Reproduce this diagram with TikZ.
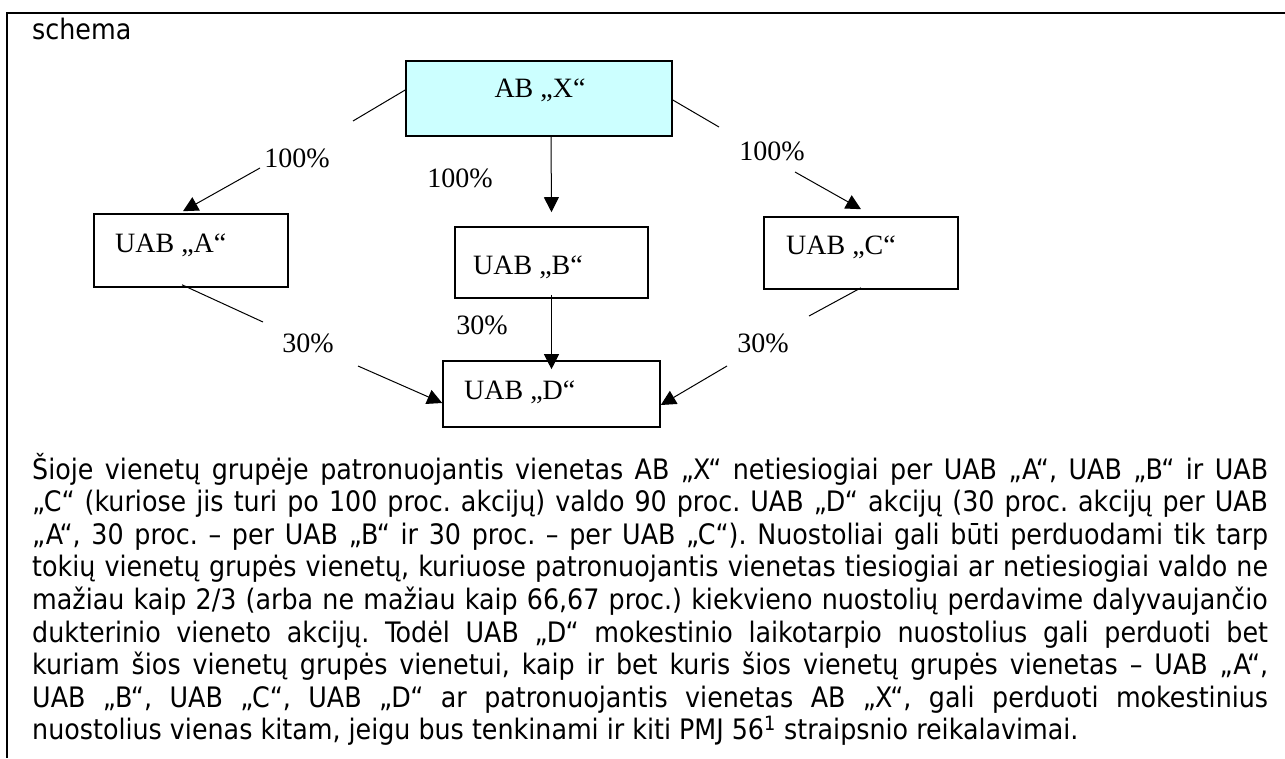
\documentclass[tikz,border=0pt]{standalone}
\usepackage{fontspec}
\setmainfont{Liberation Serif}
\newfontfamily\bodyfont{DejaVu Sans Condensed}
\usetikzlibrary{arrows.meta}
\begin{document}
\frenchspacing
\begin{tikzpicture}[x=1pt,y=-1pt,
  box/.style={draw, line width=1.6pt, inner sep=0pt},
  lbl/.style={font=\fontsize{28}{30}\selectfont, inner sep=0pt},
  conn/.style={line width=1pt},
  arr/.style={conn, -{Triangle[length=15pt,width=15pt]}},
  body/.style={font=\bodyfont\fontsize{28.2}{32}\selectfont, inner sep=0pt, anchor=base west}]
\useasboundingbox (0,0) rectangle (1285,758);
\draw[line width=2pt] (1285,13) -- (7,13) -- (7,758);
\node[body] (title) at (32,39) {schema};
% boxes
\node[box, fill={rgb,255:red,204;green,255;blue,255}, minimum width=266pt, minimum height=75pt] (x) at (539,98.5) {};
\node[box, minimum width=194pt, minimum height=73pt] (a) at (191,250.5) {};
\node[box, minimum width=193pt, minimum height=71pt] (b) at (551.5,262.5) {};
\node[box, minimum width=194pt, minimum height=72pt] (c) at (861,253) {};
\node[box, minimum width=217pt, minimum height=66pt] (d) at (551.5,394) {};
% box texts
\node[lbl] (xt) at (540,90) {AB „X“};
\node[lbl, anchor=west] (at) at (115,245) {UAB „A“};
\node[lbl, anchor=west] (bt) at (473,267) {UAB „B“};
\node[lbl, anchor=west] (ct) at (786,247) {UAB „C“};
\node[lbl, anchor=west] (dt) at (464,392) {UAB „D“};
% percentage labels
\node[lbl] (pxa) at (297,158) {100\%};
\node[lbl] (pxb) at (460,178) {100\%};
\node[lbl] (pxc) at (772,151) {100\%};
\node[lbl] (pad) at (308,343) {30\%};
\node[lbl] (pbd) at (482,325) {30\%};
\node[lbl] (pcd) at (763,343) {30\%};
% break points
\coordinate (xa1) at (353,121);
\coordinate (xa2) at (260,168);
\coordinate (xc1) at (719,127);
\coordinate (xc2) at (795,172);
\coordinate (ad1) at (263,322);
\coordinate (ad2) at (358,366);
\coordinate (cd1) at (809,316);
\coordinate (cd2) at (727,366);
% connectors
\draw[conn] ([yshift=8.5pt]x.west) -- (xa1);
\draw[arr] (xa2) -- ([xshift=-8pt,yshift=2pt]a.north);
\draw[arr] ([xshift=12pt]x.south) -- ([yshift=14pt]b.north);
\draw[conn] ([yshift=-1.5pt]x.east) -- (xc1);
\draw[arr] (xc2) -- ([yshift=7pt]c.north);
\draw[conn] ([xshift=-9pt,yshift=3pt]a.south) -- (ad1);
\draw[arr] (ad2) -- ([yshift=-9pt]d.west);
\draw[arr] ([yshift=4pt]b.south) -- ([yshift=-9pt]d.north);
\draw[conn] ([yshift=2pt]c.south) -- (cd1);
\draw[arr] (cd2) -- ([yshift=-11pt]d.east);
% body text
\node[body] (l1) at (32,479) {\makebox[1236pt][s]{Šioje vienetų grupėje patronuojantis vienetas AB „X“ netiesiogiai per UAB „A“, UAB „B“ ir UAB}};
\node[body] (l2) at (32,511.6) {\makebox[1236pt][s]{„C“ (kuriose jis turi po 100 proc. akcijų) valdo 90 proc. UAB „D“ akcijų (30 proc. akcijų per UAB}};
\node[body] (l3) at (32,544.2) {\makebox[1236pt][s]{„A“, 30 proc. – per UAB „B“ ir 30 proc. – per UAB „C“). Nuostoliai gali būti perduodami tik tarp}};
\node[body] (l4) at (32,576.8) {\makebox[1236pt][s]{tokių vienetų grupės vienetų, kuriuose patronuojantis vienetas tiesiogiai ar netiesiogiai valdo ne}};
\node[body] (l5) at (32,609.4) {\makebox[1236pt][s]{mažiau kaip 2/3 (arba ne mažiau kaip 66,67 proc.) kiekvieno nuostolių perdavime dalyvaujančio}};
\node[body] (l6) at (32,642) {\makebox[1236pt][s]{dukterinio vieneto akcijų. Todėl UAB „D“ mokestinio laikotarpio nuostolius gali perduoti bet}};
\node[body] (l7) at (32,674.6) {\makebox[1236pt][s]{kuriam šios vienetų grupės vienetui, kaip ir bet kuris šios vienetų grupės vienetas – UAB „A“,}};
\node[body] (l8) at (32,707.2) {\makebox[1236pt][s]{UAB „B“, UAB „C“, UAB „D“ ar patronuojantis vienetas AB „X“, gali perduoti mokestinius}};
\node[body] (l9) at (32,739.8) {nuostolius vienas kitam, jeigu bus tenkinami ir kiti PMJ 56\textsuperscript{1} straipsnio reikalavimai.};
\end{tikzpicture}
\end{document}
